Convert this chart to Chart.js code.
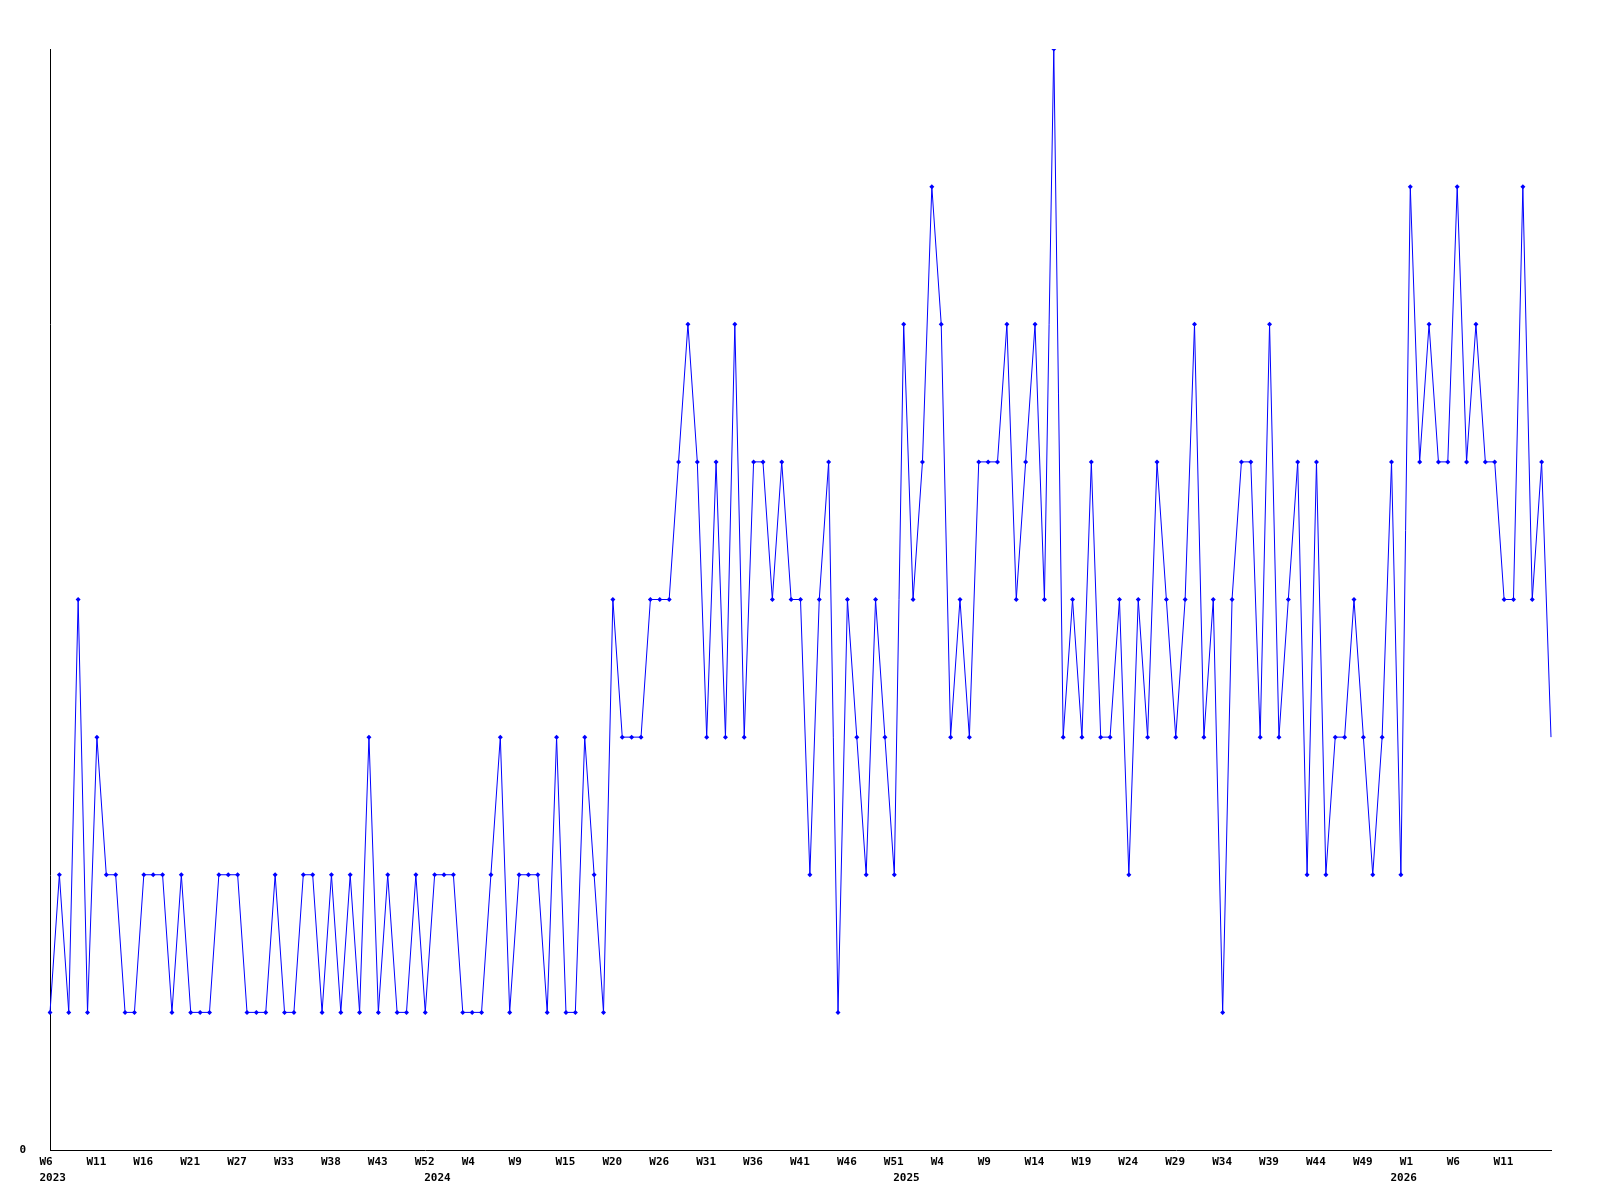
<!DOCTYPE html>
<html>
<head>
<meta charset="utf-8">
<script src="https://cdn.jsdelivr.net/npm/chart.js@4"></script>
<style>
  body { margin: 0; background: #fff; }
  #box { width: 1600px; height: 1200px; }
</style>
</head>
<body>
<div id="box"><canvas id="weeklyChart" width="1600" height="1200"></canvas></div>

<script>
  // one value per week, oldest first
  var values = [
    1,2,1,4,1,3,2,2,1,1,2,2,2,1,2,1,1,1,2,2,2,1,1,1,2,1,1,
    2,2,1,2,1,2,1,3,1,2,1,1,2,1,2,2,2,1,1,1,2,3,1,2,2,2,1,
    3,1,1,3,2,1,4,3,3,3,4,4,4,5,6,5,3,5,3,6,3,5,5,4,5,4,4,
    2,4,5,1,4,3,2,4,3,2,6,4,5,7,6,3,4,3,5,5,5,6,4,5,6,4,
    8,3,4,3,5,3,3,4,2,4,3,5,4,3,4,6,3,4,1,4,5,5,3,6,3,4,5,
    2,5,2,3,3,4,3,2,3,5,2,7,5,6,5,5,7,5,6,5,5,4,4,7,4,5,3
  ];

  // week label shown under every 5th point
  var weekTicks = ['W6','W11','W16','W21','W27','W33','W38','W43','W52','W4','W9',
    'W15','W20','W26','W31','W36','W41','W46','W51','W4','W9','W14','W19','W24',
    'W29','W34','W39','W44','W49','W1','W6','W11'];

  // first point of each year
  var yearIndex = [0, 41, 91, 144];
  var yearLabels = ['2023', '2024', '2025', '2026'];

  var categories = values.map(function (v, i) { return i; });

  var tickFont = { family: 'DejaVu Sans Mono', size: 11, weight: 'bold', lineHeight: '16px' };

  var ctx = document.getElementById('weeklyChart').getContext('2d');
  var chart = new Chart(ctx, {
    type: 'line',
    data: {
      labels: categories,
      datasets: [{
        data: values,
        borderColor: '#0000ff',
        backgroundColor: '#0000ff',
        borderWidth: 1,
        tension: 0,
        pointStyle: 'rectRot',
        pointRadius: function (c) { return c.dataIndex === values.length - 1 ? 0 : 2.5; },
        pointBorderWidth: 0,
        pointHoverRadius: 2.5
      }]
    },
    options: {
      responsive: false,
      animation: false,
      layout: { padding: { top: 49, right: 49, left: 0, bottom: 0 } },
      plugins: { legend: { display: false }, tooltip: { enabled: false } },
      scales: {
        x: {
          type: 'category',
          offset: false,
          grid: { display: false, drawTicks: false },
          border: { display: true, color: '#000', width: 1 },
          afterFit: function (s) { s.height = 50; },
          ticks: {
            autoSkip: false,
            maxRotation: 0,
            align: 'start',
            labelOffset: -10.5,
            padding: 4,
            color: '#000',
            font: tickFont,
            callback: function (v, i) {
              var w = (i % 5 === 0 && weekTicks[i / 5]) ? weekTicks[i / 5] : '';
              var y = yearIndex.indexOf(i);
              if (y >= 0) return [w, yearLabels[y]];
              return w;
            }
          }
        },
        y: {
          min: 0,
          max: 8,
          grid: { display: false, drawTicks: false },
          border: { display: true, color: '#000', width: 1 },
          afterFit: function (s) { s.width = 50; },
          ticks: {
            stepSize: 1,
            padding: 24,
            color: '#000',
            font: tickFont,
            callback: function (v) { return v === 0 ? '0' : ''; }
          }
        }
      }
    }
  });
</script>
</body>
</html>
